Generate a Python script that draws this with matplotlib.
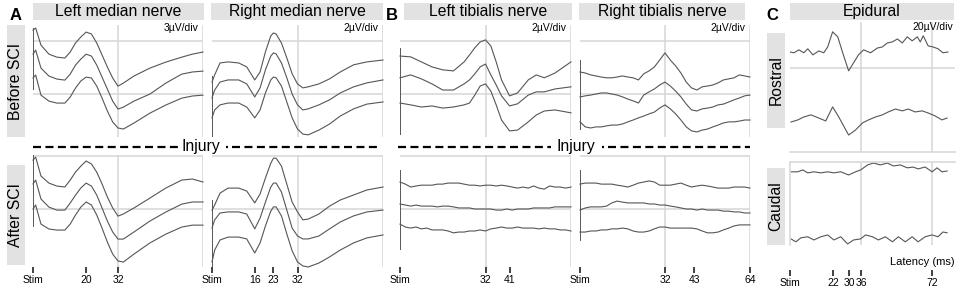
import matplotlib
matplotlib.use('Agg')
import matplotlib.pyplot as plt
from matplotlib.lines import Line2D
from matplotlib.patches import Rectangle

plt.rcParams['font.family'] = ['Liberation Sans', 'DejaVu Sans']

# ---------------------------------------------------------------------------
# DATA  (latency in ms, amplitude in uV)
# ---------------------------------------------------------------------------

# median nerves
t_lm = [0, 1, 3, 6, 9, 12, 14, 16, 18, 20, 22, 24, 26, 28, 30, 32, 34, 38, 44, 50, 56, 60, 64]
lm_pre_1 = [0.62, 0.74, -0.23, -0.74, -0.91, -0.96, -0.62, -0.11, 0.23, 0.51, 0.40, -0.11, -0.79, -1.47, -2.09, -2.55, -2.38, -1.98, -1.53, -1.19, -0.91, -0.74, -0.62]
lm_pre_2 = [-0.74, -0.51, -1.53, -1.98, -2.15, -2.21, -1.87, -1.36, -1.02, -0.74, -0.85, -1.36, -2.04, -2.72, -3.40, -3.85, -3.74, -3.40, -3.00, -2.38, -1.87, -1.75, -1.70]
lm_pre_3 = [-2.09, -1.92, -3.06, -3.40, -3.51, -3.51, -3.17, -2.66, -2.26, -2.04, -2.09, -2.55, -3.23, -3.96, -4.58, -4.92, -4.98, -4.64, -4.08, -3.62, -3.23, -3.11, -3.06]
lm_post_1 = [2.77, 2.94, 1.87, 1.47, 1.30, 1.25, 1.64, 2.09, 2.43, 2.72, 2.55, 2.09, 1.42, 0.68, 0.06, -0.40, -0.28, 0.06, 0.62, 1.19, 1.64, 1.70, 1.53]
lm_post_2 = [1.42, 1.64, 0.57, 0.11, -0.06, -0.06, 0.34, 0.79, 1.19, 1.47, 1.30, 0.79, 0.06, -0.68, -1.30, -1.70, -1.70, -1.30, -0.68, -0.17, 0.28, 0.40, 0.40]
lm_post_3 = [0.00, 0.23, -0.85, -1.13, -1.19, -1.19, -0.85, -0.34, 0.11, 0.40, 0.23, -0.34, -1.08, -1.87, -2.55, -2.94, -3.00, -2.55, -1.92, -1.42, -1.02, -0.91, -0.91]

t_rm = [0, 1, 3, 6, 10, 13, 16, 18, 20, 22, 23, 24, 26, 28, 30, 32, 34, 36, 40, 44, 48, 53, 58, 64]
rm_pre_1 = [-1.55, -1.28, -0.83, -0.79, -0.83, -0.98, -1.47, -1.17, -0.41, 0.19, 0.30, 0.26, -0.08, -0.64, -1.24, -1.62, -1.77, -1.73, -1.62, -1.43, -1.17, -0.90, -0.79, -0.72]
rm_pre_2 = [-2.15, -1.85, -1.55, -1.47, -1.47, -1.62, -2.11, -1.77, -1.09, -0.57, -0.45, -0.49, -0.83, -1.39, -2.00, -2.41, -2.60, -2.56, -2.41, -2.22, -1.96, -1.73, -1.58, -1.47]
rm_pre_3 = [-2.90, -2.60, -2.41, -2.34, -2.34, -2.49, -2.90, -2.60, -1.96, -1.47, -1.36, -1.39, -1.70, -2.30, -2.90, -3.32, -3.51, -3.54, -3.36, -3.13, -2.83, -2.56, -2.38, -2.30]
rm_post_1 = [-0.04, 0.15, 0.60, 0.79, 0.79, 0.68, 0.23, 0.57, 1.17, 1.73, 1.92, 1.92, 1.62, 0.94, 0.26, -0.11, -0.41, -0.38, -0.19, 0.11, 0.34, 0.53, 0.72, 0.83]
rm_post_2 = [-0.72, -0.41, -0.15, -0.11, -0.11, -0.19, -0.75, -0.34, 0.26, 0.83, 0.98, 0.98, 0.64, -0.04, -0.72, -1.02, -1.13, -1.13, -1.02, -0.75, -0.49, -0.26, -0.11, -0.04]
rm_post_3 = [-2.00, -1.55, -1.17, -1.06, -1.06, -1.13, -1.66, -1.28, -0.64, -0.08, 0.08, 0.08, -0.26, -0.94, -1.58, -2.00, -2.15, -2.19, -2.04, -1.81, -1.55, -1.28, -1.09, -0.98]

# tibialis nerves
t_lt = [0, 4, 8, 12, 16, 20, 24, 26, 28, 30, 32, 34, 36, 38, 41, 44, 48, 51, 54, 58, 64]
lt_pre_1 = [-0.57, -0.60, -0.79, -0.98, -1.09, -1.13, -0.79, -0.53, -0.26, -0.04, 0.04, -0.19, -0.79, -1.47, -2.07, -1.96, -1.47, -1.28, -1.39, -1.21, -0.79]
lt_pre_2 = [-1.39, -1.28, -1.43, -1.62, -1.85, -1.85, -1.62, -1.47, -1.24, -0.98, -0.87, -1.28, -1.66, -2.07, -2.45, -2.37, -2.04, -1.92, -1.92, -1.81, -1.73]
lt_pre_3 = [-2.34, -2.41, -2.49, -2.45, -2.53, -2.49, -2.41, -2.34, -2.04, -1.70, -1.62, -1.89, -2.41, -2.98, -3.39, -3.36, -3.05, -2.79, -2.64, -2.60, -2.71]

t_2ms = [0, 2, 4, 6, 8, 10, 12, 14, 16, 18, 20, 22, 24, 26, 28, 30, 32,
         34, 36, 38, 40, 42, 44, 46, 48, 50, 52, 54, 56, 58, 60, 62, 64]
lt_post_1 = [1.02, 0.94, 0.83, 0.87, 0.90, 0.90, 0.90, 0.94, 0.94, 0.98, 0.98, 0.98, 0.94, 0.90, 0.90, 0.87, 0.90,
             0.90, 0.87, 0.90, 0.87, 0.83, 0.79, 0.83, 0.79, 0.87, 0.79, 0.75, 0.87, 0.83, 0.83, 0.79, 0.83]
lt_post_2 = [0.19, 0.15, 0.11, 0.15, 0.11, 0.11, 0.11, 0.08, 0.11, 0.11, 0.08, 0.04, 0.04, 0.04, 0.00, 0.00, 0.00,
             0.00, -0.04, -0.04, 0.00, -0.04, 0.00, 0.00, 0.00, 0.04, 0.04, 0.04, 0.04, 0.08, 0.08, 0.08, 0.08]
lt_post_3 = [-0.57, -0.68, -0.72, -0.68, -0.75, -0.72, -0.79, -0.79, -0.79, -0.83, -0.90, -0.87, -0.87, -0.83, -0.83, -0.79, -0.83,
             -0.75, -0.72, -0.68, -0.72, -0.72, -0.68, -0.72, -0.72, -0.72, -0.75, -0.72, -0.75, -0.75, -0.79, -0.79, -0.83]

rt_pre_1 = [-1.17, -1.21, -1.28, -1.32, -1.36, -1.39, -1.39, -1.36, -1.32, -1.36, -1.39, -1.47, -1.24, -1.13, -0.98, -0.72, -0.45,
            -0.72, -0.94, -1.21, -1.55, -1.77, -1.85, -1.73, -1.70, -1.66, -1.58, -1.47, -1.43, -1.39, -1.28, -1.32, -1.36]
rt_pre_2 = [-2.11, -2.07, -2.04, -2.00, -1.96, -1.96, -2.00, -2.04, -2.11, -2.19, -2.26, -2.34, -2.04, -1.92, -1.81, -1.66, -1.55,
            -1.70, -1.89, -2.11, -2.38, -2.60, -2.64, -2.56, -2.53, -2.49, -2.41, -2.38, -2.30, -2.22, -2.15, -2.07, -2.04]
rt_pre_3 = [-3.05, -3.24, -3.28, -3.24, -3.24, -3.20, -3.17, -3.17, -3.13, -3.05, -2.98, -2.90, -2.83, -2.75, -2.68, -2.53, -2.41,
            -2.56, -2.75, -2.98, -3.24, -3.39, -3.43, -3.36, -3.32, -3.24, -3.17, -3.09, -3.05, -3.05, -3.02, -2.98, -2.98]
rt_post_1 = [0.94, 0.98, 0.98, 0.98, 0.94, 0.94, 0.94, 0.90, 0.87, 0.83, 0.90, 0.98, 1.02, 1.06, 1.02, 0.90, 0.90,
             0.90, 0.94, 0.98, 0.90, 0.83, 0.87, 0.90, 0.87, 0.83, 0.79, 0.79, 0.79, 0.83, 0.83, 0.83, 0.79]
rt_post_2 = [-0.04, 0.04, 0.08, 0.08, 0.08, 0.11, 0.23, 0.30, 0.26, 0.23, 0.23, 0.23, 0.23, 0.19, 0.19, 0.15, 0.15,
             0.11, 0.08, 0.04, 0.00, 0.00, -0.04, 0.00, -0.04, -0.04, -0.04, -0.08, -0.08, -0.11, -0.11, -0.15, -0.15]
rt_post_3 = [-0.87, -0.87, -0.83, -0.83, -0.79, -0.79, -0.75, -0.75, -0.72, -0.75, -0.83, -0.87, -0.87, -0.83, -0.75, -0.68, -0.68,
             -0.72, -0.72, -0.72, -0.72, -0.72, -0.75, -0.83, -0.90, -0.90, -0.87, -0.79, -0.72, -0.64, -0.60, -0.60, -0.60]

# stimulus artefact bars (uV range at latency 0)
stim_pre = {'lm': (0.74, -2.77), 'rm': (-1.32, -3.62), 'lt': (-0.26, -3.54), 'rt': (-0.72, -3.36)}
stim_post = {'lm': (3.06, -1.02), 'rm': (0.34, -2.22), 'lt': (1.47, -1.55), 'rt': (1.47, -1.21)}

# epidural recordings
ros_1_t = [0, 2, 4.5, 7, 9, 11.6, 14.6, 17.1, 19.1, 21.6, 24.2, 26.7, 29.7, 32.2, 34.7, 37.3, 40.8, 44.3, 46.8, 49.3,
           51.9, 54.4, 56.9, 59.4, 61.9, 64.5, 66, 67.5, 70, 72.5, 75, 77.5, 80]
ros_1 = [6.0, 5.7, 6.8, 5.7, 7.2, 4.9, 6.4, 5.7, 7.9, 13.6, 11.7, 5.7, -1.1, 1.9, 4.9, 6.8, 5.7, 7.5, 7.9, 9.4,
         9.8, 10.9, 9.4, 11.7, 10.2, 11.7, 9.8, 12.1, 8.3, 7.9, 7.2, 5.7, 6.0]
ros_2_t = [0.5, 4, 7, 10.6, 14.6, 18.1, 21.6, 24.7, 29.7, 33.2, 36.8, 39.8, 43.3, 46.8, 49.8, 53.4, 56.9, 59.9,
           63.4, 67, 70, 73.5, 77, 79.6]
ros_2 = [-20.4, -19.6, -18.5, -17.7, -18.9, -20.0, -14.7, -18.5, -25.3, -23.4, -20.7, -19.6, -18.5, -17.7, -16.6,
         -15.5, -16.2, -15.5, -16.6, -16.2, -17.0, -18.1, -19.6, -18.9]
cau_1_t = [0.5, 4, 6.5, 9, 12.1, 15.6, 19.1, 22.2, 25.7, 29.7, 33.2, 35.8, 39.3, 42.3, 45.8, 49.3, 52.4, 55.9,
           59.4, 62.4, 64.9, 68.5, 72, 74.5, 77, 79.6]
cau_1 = [10.6, 10.6, 11.3, 10.2, 10.6, 10.2, 10.6, 10.2, 10.6, 9.4, 10.6, 11.3, 13.2, 13.9, 13.2, 13.9, 12.8, 13.2,
         12.1, 12.4, 11.7, 12.4, 10.6, 12.1, 10.6, 10.9]
cau_2_t = [0.5, 3, 5.5, 9, 12.1, 15.6, 19.1, 22.2, 25.7, 29.2, 32.2, 35.8, 38.3, 41.8, 44.8, 48.3, 51.9, 54.9,
           58.4, 61.9, 64.9, 68.5, 72, 75, 77.5, 79.6]
cau_2 = [-14.7, -15.8, -14.3, -13.9, -15.1, -13.9, -13.2, -15.1, -13.9, -16.6, -15.1, -14.7, -13.2, -13.9, -15.1,
         -13.9, -15.8, -13.9, -15.8, -13.9, -15.8, -13.9, -13.2, -13.9, -12.1, -12.4]

# latency markers
lm_ticks, lm_labels = [0, 20, 32], ['Stim', '20', '32']
rm_ticks, rm_labels = [0, 16, 23, 32], ['Stim', '16', '23', '32']
lt_ticks, lt_labels = [0, 32, 41], ['Stim', '32', '41']
rt_ticks, rt_labels = [0, 32, 43, 64], ['Stim', '32', '43', '64']
ep_ticks, ep_labels = [0, 22, 30, 36, 72], ['Stim', '22', '30', '36', '72']

# ---------------------------------------------------------------------------
# FIGURE
# ---------------------------------------------------------------------------
W, H = 959, 290
fig = plt.figure(figsize=(W / 100, H / 100), dpi=100)

TRACE = '#565656'
GRID = '#d6d6d6'
BOX = '#e2e2e2'


def rect(x0, y0, x1, y1):
    return [x0 / W, 1 - y1 / H, (x1 - x0) / W, (y1 - y0) / H]


def label_box(x0, y0, x1, y1, text, rot=0, size=11.3):
    fig.add_artist(Rectangle((x0 / W, 1 - y1 / H), (x1 - x0) / W, (y1 - y0) / H,
                             transform=fig.transFigure, facecolor=BOX, edgecolor='none', zorder=0))
    fig.text((x0 + x1) / 2 / W, 1 - (y0 + y1) / 2 / H, text, rotation=rot,
             ha='center', va='center', fontsize=size)


def nerve_panel(x0, x1, y0, y1, t, traces, ylim, grid_y, stim, scale=None, ticks=None, labels=None):
    ax = fig.add_axes(rect(x0, y0, x1, y1))
    ax.set_xlim(0, 64)
    ax.set_ylim(*ylim)
    for g in grid_y:
        ax.axhline(g, color=GRID, lw=1.1, zorder=0)
    ax.axvline(32, color=GRID, lw=1.1, zorder=0)
    ax.axvline(64, color=GRID, lw=1.1, zorder=0)
    ax.plot([0, 0], stim, color='#3c3c3c', lw=1.2, solid_capstyle='butt')
    for tr in traces:
        ax.plot(t, tr, color=TRACE, lw=0.8, clip_on=False)
    for s in ax.spines.values():
        s.set_visible(False)
    ax.set_yticks([])
    ax.patch.set_alpha(0)
    if scale:
        ax.text(0.975, 1.02, scale, transform=ax.transAxes, ha='right', va='top', fontsize=7.5)
    if ticks is not None:
        ax.set_xticks(ticks, labels)
        ax.tick_params(axis='x', direction='out', length=4, width=1.3, color='#333333',
                       labelsize=7.5, pad=2)
    else:
        ax.set_xticks([])
    return ax


# rows (pixel layout)
PRE = (25, 137)
POST = (155, 267)
cols = {'lm': (33, 203), 'rm': (212, 383), 'lt': (400, 571), 'rt': (580, 750)}

# before SCI
nerve_panel(*cols['lm'], *PRE, t_lm, [lm_pre_1, lm_pre_2, lm_pre_3], (-5.43, 0.91), [0, -3],
            stim_pre['lm'], scale='3µV/div')
nerve_panel(*cols['rm'], *PRE, t_rm, [rm_pre_1, rm_pre_2, rm_pre_3], (-3.62, 0.60), [0, -2],
            stim_pre['rm'], scale='2µV/div')
nerve_panel(*cols['lt'], *PRE, t_lt, [lt_pre_1, lt_pre_2, lt_pre_3], (-3.62, 0.60), [0, -2],
            stim_pre['lt'], scale='2µV/div')
nerve_panel(*cols['rt'], *PRE, t_2ms, [rt_pre_1, rt_pre_2, rt_pre_3], (-3.62, 0.60), [0, -2],
            stim_pre['rt'], scale='2µV/div')

# after SCI
nerve_panel(*cols['lm'], *POST, t_lm, [lm_post_1, lm_post_2, lm_post_3], (-3.28, 3.06), [0, 3],
            stim_post['lm'], ticks=lm_ticks, labels=lm_labels)
nerve_panel(*cols['rm'], *POST, t_rm, [rm_post_1, rm_post_2, rm_post_3], (-2.19, 2.04), [0, 2],
            stim_post['rm'], ticks=rm_ticks, labels=rm_labels)
nerve_panel(*cols['lt'], *POST, t_2ms, [lt_post_1, lt_post_2, lt_post_3], (-2.19, 2.04), [0, 2],
            stim_post['lt'], ticks=lt_ticks, labels=lt_labels)
nerve_panel(*cols['rt'], *POST, t_2ms, [rt_post_1, rt_post_2, rt_post_3], (-2.19, 2.04), [0, 2],
            stim_post['rt'], ticks=rt_ticks, labels=rt_labels)

# epidural
ax_r = fig.add_axes(rect(790, 22, 955, 152))
ax_r.set_xlim(0, 83.6)
ax_r.set_ylim(-31.7, 17.3)
ax_r.axhline(0, color=GRID, lw=1.1, zorder=0)
for v in (36, 72):
    ax_r.axvline(v, color=GRID, lw=1.1, zorder=0)
ax_r.plot(ros_1_t, ros_1, color=TRACE, lw=0.8)
ax_r.plot(ros_2_t, ros_2, color=TRACE, lw=0.8)
ax_r.text(0.99, 1.0, '20µV/div', transform=ax_r.transAxes, ha='right', va='top', fontsize=7.5)

ax_c = fig.add_axes(rect(790, 162, 955, 245))
ax_c.set_xlim(0, 83.6)
ax_c.set_ylim(-17.0, 14.3)
for v in (36, 72):
    ax_c.axvline(v, color=GRID, lw=1.1, zorder=0)
ax_c.plot(cau_1_t, cau_1, color=TRACE, lw=0.8)
ax_c.plot(cau_2_t, cau_2, color=TRACE, lw=0.8)

for ax, shown in ((ax_r, ('bottom',)), (ax_c, ('top', 'left'))):
    for name, s in ax.spines.items():
        s.set_visible(name in shown)
        s.set_color(GRID)
        s.set_linewidth(1.1)
    ax.set_xticks([])
    ax.set_yticks([])
    ax.patch.set_alpha(0)

sec = ax_c.secondary_xaxis(-0.30)
sec.spines['bottom'].set_visible(False)
sec.set_xticks(ep_ticks, ep_labels)
sec.tick_params(axis='x', direction='out', length=4, width=1.3, color='#333333', labelsize=7.5, pad=2)

fig.text(955 / W, 1 - 262 / H, 'Latency (ms)', ha='right', va='center', fontsize=8)

# header and side boxes
label_box(33, 3, 204, 20, 'Left median nerve')
label_box(211, 3, 383, 20, 'Right median nerve')
label_box(404, 3, 572, 20, 'Left tibialis nerve')
label_box(579, 3, 745, 20, 'Right tibialis nerve')
label_box(790, 3, 954, 20, 'Epidural')
label_box(7, 25, 25, 137, 'Before SCI', rot=90)
label_box(7, 165, 25, 265, 'After SCI', rot=90)
label_box(767, 33, 785, 128, 'Rostral', rot=90)
label_box(767, 168, 785, 245, 'Caudal', rot=90)

# panel letters
for x, letter in ((10, 'A'), (386, 'B'), (766, 'C')):
    fig.text(x / W, 1 - 15 / H, letter, ha='left', va='center', fontsize=12, fontweight='bold')

# injury separator
yi = 1 - 147 / H
for xa, xb in ((33, 178), (226, 228), (232, 381), (398, 551), (602, 604), (608, 750)):
    fig.add_artist(Line2D([xa / W, xb / W], [yi, yi], transform=fig.transFigure, color='black',
                          lw=1.6, linestyle=(0, (3.6, 2.0)), dash_capstyle='butt', solid_capstyle='butt'))
for xc in (201, 576):
    fig.text(xc / W, yi, 'Injury', ha='center', va='center', fontsize=11.3)

fig.savefig('out.png', dpi=100)
